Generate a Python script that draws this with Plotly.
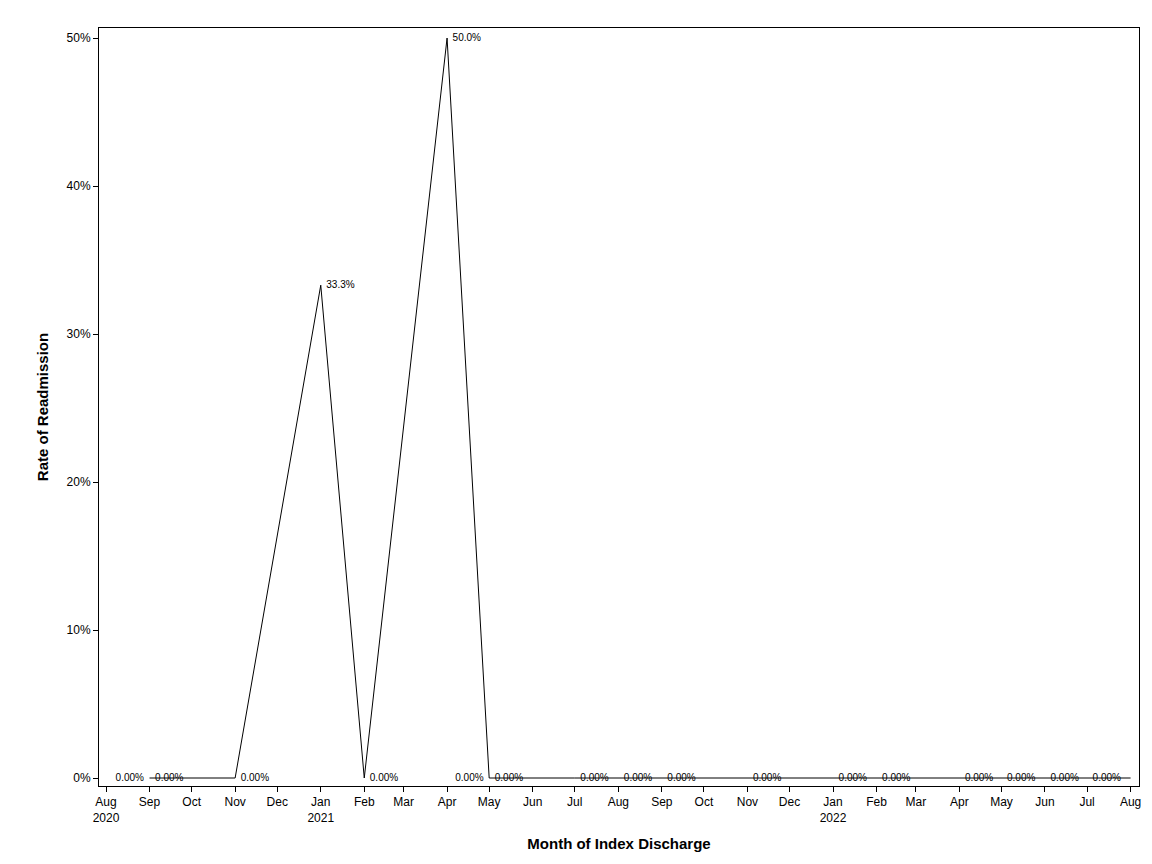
import plotly.graph_objects as go

# monthly readmission rate (%), first day of month of index discharge
months = ["2020-09-01", "2020-11-01", "2021-01-01", "2021-02-01", "2021-04-01",
          "2021-05-01", "2021-07-01", "2021-08-01", "2021-09-01", "2021-11-01",
          "2022-01-01", "2022-02-01", "2022-04-01", "2022-05-01", "2022-06-01",
          "2022-07-01", "2022-08-01"]
rates = [0, 0, 33.3, 0, 50.0, 0, 0, 0, 0, 0, 0, 0, 0, 0, 0, 0, 0]
labels = ["0.00%", "0.00%", "33.3%", "0.00%", "50.0%", "0.00%", "0.00%", "0.00%",
          "0.00%", "0.00%", "0.00%", "0.00%", "0.00%", "0.00%", "0.00%", "0.00%", "0.00%"]
# which side(s) the value label sits on
label_side = ["LR", "R", "R", "R", "R", "LR", "R", "R", "R", "R", "R", "R", "R", "R", "R", "R", ""]

tick_dates = ["2020-08-01", "2020-09-01", "2020-10-01", "2020-11-01", "2020-12-01",
              "2021-01-01", "2021-02-01", "2021-03-01", "2021-04-01", "2021-05-01",
              "2021-06-01", "2021-07-01", "2021-08-01", "2021-09-01", "2021-10-01",
              "2021-11-01", "2021-12-01", "2022-01-01", "2022-02-01", "2022-03-01",
              "2022-04-01", "2022-05-01", "2022-06-01", "2022-07-01", "2022-08-01"]
tick_text = ["Aug<br>2020", "Sep", "Oct", "Nov", "Dec", "Jan<br>2021", "Feb", "Mar", "Apr",
             "May", "Jun", "Jul", "Aug", "Sep", "Oct", "Nov", "Dec", "Jan<br>2022", "Feb",
             "Mar", "Apr", "May", "Jun", "Jul", "Aug"]
y_ticks = [0, 10, 20, 30, 40, 50]

FONT = "Liberation Sans, Arial, sans-serif"

fig = go.Figure()
fig.add_trace(go.Scatter(x=months, y=rates, mode="lines",
                         line=dict(color="black", width=1), showlegend=False))

right = [i for i, s in enumerate(label_side) if "R" in s]
left = [i for i, s in enumerate(label_side) if "L" in s]
fig.add_trace(go.Scatter(x=[months[i] for i in right], y=[rates[i] for i in right],
                         mode="text", text=["  " + labels[i] for i in right],
                         textposition="middle right", textfont=dict(size=10, color="black", family=FONT),
                         showlegend=False))
fig.add_trace(go.Scatter(x=[months[i] for i in left], y=[rates[i] for i in left],
                         mode="text", text=[labels[i] + "  " for i in left],
                         textposition="middle left", textfont=dict(size=10, color="black", family=FONT),
                         showlegend=False))

fig.update_layout(
    width=1152, height=864,
    margin=dict(l=91, r=21, t=20, b=86),
    plot_bgcolor="white", paper_bgcolor="white",
    font=dict(family=FONT, size=12, color="black"),
)
fig.update_xaxes(
    range=["2020-07-27", "2022-08-07"], tickvals=tick_dates, ticktext=tick_text,
    ticks="outside", ticklen=5, tickcolor="black", showgrid=False, zeroline=False,
    showline=True, linecolor="black", mirror=True, automargin=False,
    title=dict(text="<b>Month of Index Discharge</b>", font=dict(size=15), standoff=14),
)
fig.update_yaxes(
    range=[-0.54, 50.68], tickvals=y_ticks, ticktext=[f"{v}%" for v in y_ticks],
    ticks="outside", ticklen=5, tickcolor="black", showgrid=False, zeroline=False,
    showline=True, linecolor="black", mirror=True, automargin=False,
    title=dict(text="<b>Rate of Readmission</b>", font=dict(size=15), standoff=14),
)

fig.write_html("out.html")
